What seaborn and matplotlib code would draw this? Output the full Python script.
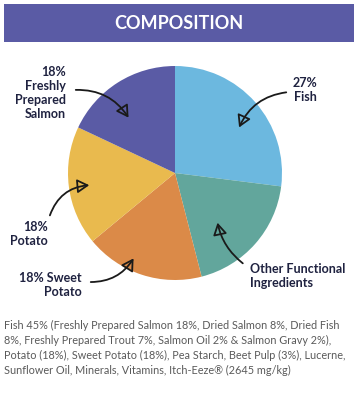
import numpy as np
import matplotlib
matplotlib.use("Agg")
import matplotlib.pyplot as plt
import seaborn as sns
from matplotlib.patches import Rectangle

# data
slice_names = ["Fish", "Other Functional Ingredients", "Sweet Potato", "Potato", "Freshly Prepared Salmon"]
slice_values = [27, 19, 18, 18, 18]
slice_colors = ["#6cb8df", "#62a69c", "#db8a48", "#e9ba4e", "#5a5ba5"]
slice_labels = ["27%\nFish", "Other Functional\nIngredients", "18% Sweet\nPotato",
                "18%\nPotato", "18%\nFreshly\nPrepared\nSalmon"]
title = "COMPOSITION"
footer = ("Fish 45% (Freshly Prepared Salmon 18%, Dried Salmon 8%, Dried Fish\n"
          "8%, Freshly Prepared Trout 7%, Salmon Oil 2% & Salmon Gravy 2%),\n"
          "Potato (18%), Sweet Potato (18%), Pea Starch, Beet Pulp (3%), Lucerne,\n"
          "Sunflower Oil, Minerals, Vitamins, Itch-Eeze\u00ae (2645 mg/kg)")

sns.set_theme(style="white")
plt.rcParams['font.family'] = ['Lato', 'DejaVu Sans']

W, H = 358, 394
fig = plt.figure(figsize=(W / 100, H / 100), dpi=100)
ax = fig.add_axes([0, 0, 1, 1])

def Y(y):
    return H - y

# header bar
ax.add_patch(Rectangle((4, Y(42)), 350, 38, color="#5a5ba5", lw=0))
ax.text(179, Y(23), title, color="white", fontsize=13, fontweight="bold",
        ha="center", va="center")

# pie
ax.pie(slice_values, colors=slice_colors, startangle=90, counterclock=False,
       center=(175, Y(173)), radius=107, frame=True,
       wedgeprops=dict(linewidth=0))
ax.set_xlim(0, W)
ax.set_ylim(0, H)
ax.axis("off")

navy = "#1f2240"
# label text: (x, y, ha), arrow start, arrow end, rad
label_pos = [(317, 90, "right"), (250, 276, "left"), (82, 285, "right"),
             (48, 234, "right"), (66, 93, "right")]
arrow_from = [(289, 92), (245, 265), (88, 282), (49, 218), (73, 90)]
arrow_to = [(238, 130), (217, 220), (135, 256), (92, 185), (130, 120)]
arrow_rad = [0.3, -0.2, 0.3, -0.35, -0.3]

for lab, (tx, ty, ha), (x0, y0), (x1, y1), rad in zip(slice_labels, label_pos, arrow_from, arrow_to, arrow_rad):
    ax.text(tx, Y(ty), lab, color=navy, fontsize=9, fontweight="bold",
            ha=ha, va="center", linespacing=1.2, multialignment=ha)
    ax.annotate("", xy=(x1, Y(y1)), xytext=(x0, Y(y0)),
                arrowprops=dict(arrowstyle="-|>,head_length=0.6,head_width=0.35",
                                color="#1a1a1a", fc="none", lw=1.3,
                                connectionstyle=f"arc3,rad={rad}"))

ax.text(4, Y(348), footer, color="#5a5a5a", fontsize=7.8, ha="left", va="center",
        linespacing=1.45)

fig.savefig("out.png", dpi=100)
